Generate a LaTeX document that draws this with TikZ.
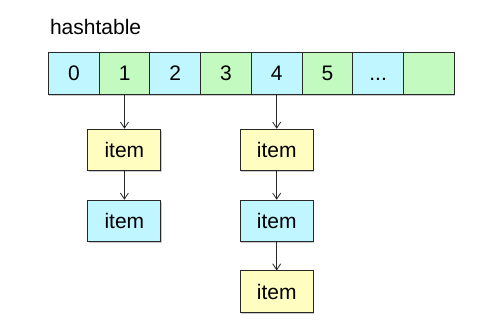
\documentclass[tikz,border=0pt]{standalone}
\usepackage{fontspec}
\setmainfont{Liberation Sans}
\usetikzlibrary{shadows,arrows.meta}
\definecolor{cellblue}{RGB}{192,246,255}
\definecolor{cellgreen}{RGB}{194,250,192}
\definecolor{itemyellow}{RGB}{255,253,192}
\definecolor{edge}{RGB}{40,40,40}
\tikzset{
  box/.style={draw=edge, line width=1pt, inner sep=0pt, font=\fontsize{21}{24}\selectfont,
    text height=15pt, text depth=0pt,
    drop shadow={shadow xshift=0.6pt, shadow yshift=-1.6pt, opacity=0.35, fill=black!60}},
  cell/.style={box, minimum width=50.7pt, minimum height=41.5pt},
  itembox/.style={box, minimum width=73pt, minimum height=41.5pt},
  link/.style={draw=edge, line width=0.8pt, -{Straight Barb[length=6pt,width=8pt]}}
}
\begin{document}
\begin{tikzpicture}[x=1pt,y=-1pt]
\useasboundingbox (0,0) rectangle (501,331);
\node[anchor=base west, font=\fontsize{21}{24}\selectfont] (title) at (46.5,35) {hashtable};
\node[cell, fill=cellblue]  (c0) at (73.9,73.5) {0};
\node[cell, fill=cellgreen] (c1) at (124.6,73.5) {1};
\node[cell, fill=cellblue]  (c2) at (175.3,73.5) {2};
\node[cell, fill=cellgreen] (c3) at (226.0,73.5) {3};
\node[cell, fill=cellblue]  (c4) at (276.7,73.5) {4};
\node[cell, fill=cellgreen] (c5) at (327.4,73.5) {5};
\node[cell, fill=cellblue]  (c6) at (378.1,73.5) {...};
\node[cell, fill=cellgreen] (c7) at (428.8,73.5) {};
\node[itembox, fill=itemyellow] (a1) at (124.4,150) {item};
\node[itembox, fill=cellblue]   (a2) at (124.4,221) {item};
\node[itembox, fill=itemyellow] (b1) at (276.7,150) {item};
\node[itembox, fill=cellblue]   (b2) at (276.7,221) {item};
\node[itembox, fill=itemyellow] (b3) at (276.7,291.7) {item};
\draw[link] (c1) -- (a1);
\draw[link] (a1) -- (a2);
\draw[link] (c4) -- (b1);
\draw[link] (b1) -- (b2);
\draw[link] (b2) -- (b3);
\end{tikzpicture}
\end{document}
